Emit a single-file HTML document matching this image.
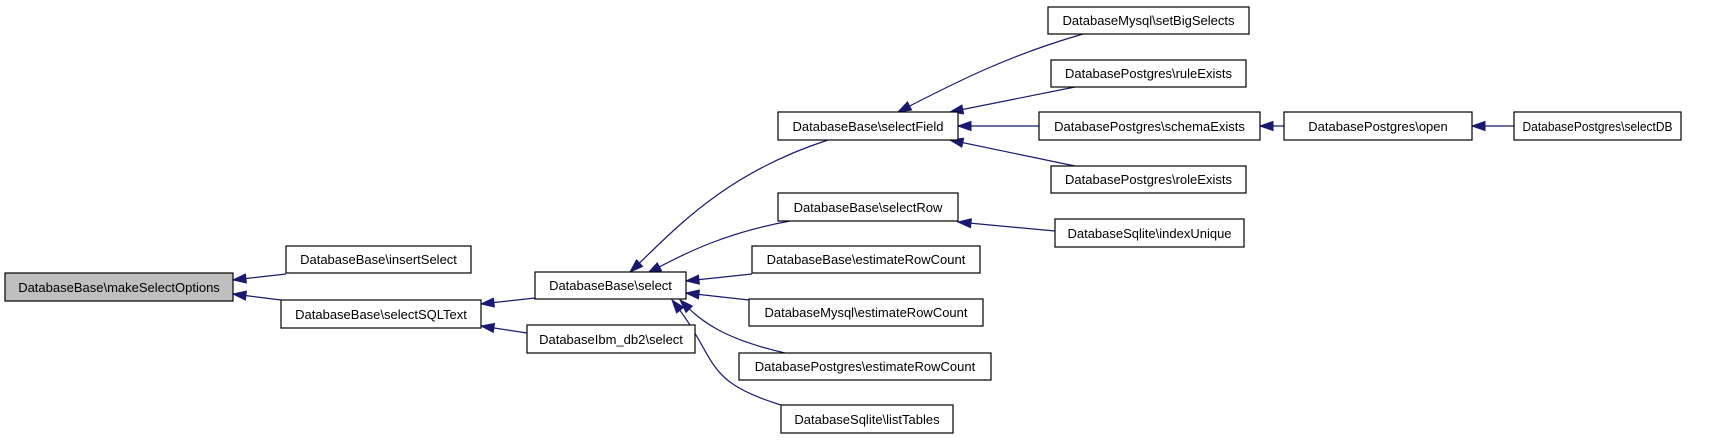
<!DOCTYPE html>
<html><head><meta charset="utf-8"><style>
html,body{margin:0;padding:0;background:#fff;}
svg{display:block;}
text{font-family:"Liberation Sans",sans-serif;font-size:13px;fill:#000;}
rect{stroke:#000;stroke-width:1.2;fill:#fff;}
path{stroke:#191970;stroke-width:1.2;fill:none;}
</style></head><body>
<svg width="1712" height="440" viewBox="0 0 1712 440" xmlns="http://www.w3.org/2000/svg">
<defs>
<marker id="a" markerUnits="userSpaceOnUse" markerWidth="16" markerHeight="12" refX="0" refY="5" orient="auto" overflow="visible">
<polygon points="0,5 13,0.5 13,9.5" fill="#191970" stroke="#191970" stroke-width="1"/>
</marker>
</defs>
<path marker-start="url(#a)" d="M233,280 L286,274"/>
<path marker-start="url(#a)" d="M233,294 L281,300"/>
<path marker-start="url(#a)" d="M481,304 L535,298"/>
<path marker-start="url(#a)" d="M481,326 L527,333"/>
<path marker-start="url(#a)" d="M630,272 C670,235 720,175 828,140"/>
<path marker-start="url(#a)" d="M648,273 C690,250 730,232 790,221"/>
<path marker-start="url(#a)" d="M686,281 L752,274"/>
<path marker-start="url(#a)" d="M686,293 L749,300"/>
<path marker-start="url(#a)" d="M680,300 C700,320 720,338 785,353"/>
<path marker-start="url(#a)" d="M672,300 C720,360 700,380 781,405"/>
<path marker-start="url(#a)" d="M898,112 C960,80 1010,55 1083,34"/>
<path marker-start="url(#a)" d="M950,112 L1075,87"/>
<path marker-start="url(#a)" d="M958,126 L1039,126"/>
<path marker-start="url(#a)" d="M950,140 L1075,166"/>
<path marker-start="url(#a)" d="M958,222 L1055,231"/>
<path marker-start="url(#a)" d="M1260,126 L1284,126"/>
<path marker-start="url(#a)" d="M1472,126 L1514,126"/>
<rect x="5" y="273" width="228" height="28" style="fill:#bfbfbf"/><text x="119" y="292" text-anchor="middle">DatabaseBase\makeSelectOptions</text>
<rect x="286" y="246" width="185" height="27"/><text x="378.5" y="264" text-anchor="middle">DatabaseBase\insertSelect</text>
<rect x="281" y="300" width="200" height="28"/><text x="381" y="319" text-anchor="middle">DatabaseBase\selectSQLText</text>
<rect x="535" y="272" width="151" height="27"/><text x="610.5" y="290" text-anchor="middle">DatabaseBase\select</text>
<rect x="527" y="325" width="168" height="28"/><text x="611" y="344" text-anchor="middle">DatabaseIbm_db2\select</text>
<rect x="778" y="112" width="180" height="28"/><text x="868" y="131" text-anchor="middle">DatabaseBase\selectField</text>
<rect x="778" y="193" width="180" height="28"/><text x="868" y="212" text-anchor="middle">DatabaseBase\selectRow</text>
<rect x="752" y="246" width="228" height="27"/><text x="866" y="264" text-anchor="middle">DatabaseBase\estimateRowCount</text>
<rect x="749" y="299" width="234" height="27"/><text x="866" y="317" text-anchor="middle">DatabaseMysql\estimateRowCount</text>
<rect x="739" y="353" width="252" height="27"/><text x="865" y="371" text-anchor="middle">DatabasePostgres\estimateRowCount</text>
<rect x="781" y="405" width="172" height="28"/><text x="867" y="424" text-anchor="middle">DatabaseSqlite\listTables</text>
<rect x="1048" y="7" width="201" height="27"/><text x="1148.5" y="25" text-anchor="middle">DatabaseMysql\setBigSelects</text>
<rect x="1051" y="60" width="195" height="27"/><text x="1148.5" y="78" text-anchor="middle">DatabasePostgres\ruleExists</text>
<rect x="1039" y="112" width="221" height="28"/><text x="1149.5" y="131" text-anchor="middle">DatabasePostgres\schemaExists</text>
<rect x="1051" y="166" width="195" height="27"/><text x="1148.5" y="184" text-anchor="middle">DatabasePostgres\roleExists</text>
<rect x="1055" y="219" width="189" height="28"/><text x="1149.5" y="238" text-anchor="middle">DatabaseSqlite\indexUnique</text>
<rect x="1284" y="112" width="188" height="28"/><text x="1378" y="131" text-anchor="middle">DatabasePostgres\open</text>
<rect x="1514" y="112" width="167" height="28"/><text x="1597.5" y="131" text-anchor="middle" textLength="150" lengthAdjust="spacingAndGlyphs">DatabasePostgres\selectDB</text>
</svg>
</body></html>
